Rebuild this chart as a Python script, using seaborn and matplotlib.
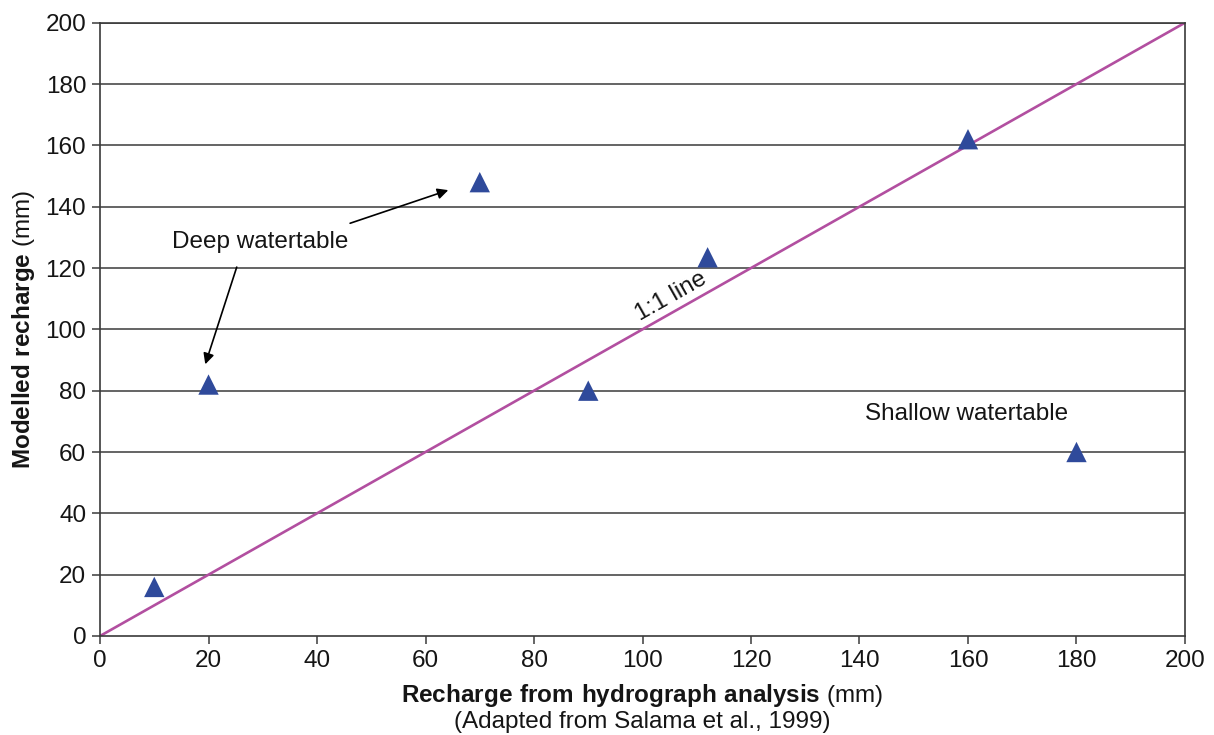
import matplotlib
matplotlib.use("Agg")
import matplotlib.pyplot as plt
import seaborn as sns
import pandas as pd

# Recharge estimates (mm)
hydrograph_recharge = [10, 20, 70, 90, 112, 160, 180]
modelled_recharge = [16, 82, 148, 80, 123.5, 162, 60]
one_to_one = [0, 200]
ticks = [0, 20, 40, 60, 80, 100, 120, 140, 160, 180, 200]

sns.set_theme(style="white")
plt.rcParams["font.family"] = ["Liberation Sans", "DejaVu Sans"]
plt.rcParams["mathtext.fontset"] = "custom"
plt.rcParams["mathtext.rm"] = "Liberation Sans"
plt.rcParams["mathtext.bf"] = "Liberation Sans:bold"

frame_color = "#3a3a3a"
text_color = "#151515"
fs = 17.5

fig = plt.figure(figsize=(12.14, 7.35), dpi=100)
ax = fig.add_axes([0.0824, 0.1347, 0.8937, 0.8344])

df = pd.DataFrame({"x": hydrograph_recharge, "y": modelled_recharge})
line_df = pd.DataFrame({"x": one_to_one, "y": one_to_one})

for t in ticks[1:]:
    ax.axhline(t, color=frame_color, lw=1.1, zorder=1)

sns.lineplot(data=line_df, x="x", y="y", ax=ax, color="#B24FA0", lw=1.9, zorder=2)
sns.scatterplot(data=df, x="x", y="y", ax=ax, marker="^", s=215,
                color="#2F4A9B", edgecolor="none", zorder=3, clip_on=False)

ax.set_xlim(0, 200)
ax.set_ylim(0, 200)
ax.set_xticks(ticks)
ax.set_yticks(ticks)
ax.tick_params(axis="both", which="major", direction="out", length=6, width=1.1,
               color=frame_color, labelsize=fs, labelcolor=text_color, pad=4,
               bottom=True, left=True)
for sp in ax.spines.values():
    sp.set_color(frame_color)
    sp.set_linewidth(1.2)

ax.set_xlabel(r"$\mathbf{Recharge\ from\ hydrograph\ analysis}$ (mm)",
              fontsize=fs, color=text_color, labelpad=7)
ax.set_ylabel(r"$\mathbf{Modelled\ recharge}$ (mm)",
              fontsize=fs, color=text_color, labelpad=6)
fig.text(0.5289, 1 - 722 / 735, "(Adapted from Salama et al., 1999)",
         ha="center", va="center", fontsize=fs, color=text_color)

# Annotations
ax.text(29.5, 126.4, "Deep watertable", ha="center", va="baseline",
        fontsize=fs, color=text_color)
arrow_kw = dict(arrowstyle="-|>", color="black", lw=1.2, mutation_scale=16,
                shrinkA=0, shrinkB=0)
ax.annotate("", xy=(64.2, 145.4), xytext=(46.1, 134.6), arrowprops=arrow_kw)
ax.annotate("", xy=(19.4, 88.6), xytext=(25.2, 120.3), arrowprops=arrow_kw)

ax.text(159.8, 70.6, "Shallow watertable", ha="center", va="baseline",
        fontsize=fs, color=text_color)
ax.text(105.3, 110.6, "1:1 line", ha="center", va="center", rotation=29.5,
        rotation_mode="anchor", fontsize=fs, color=text_color)

fig.savefig("out.png", dpi=100, facecolor="white")
